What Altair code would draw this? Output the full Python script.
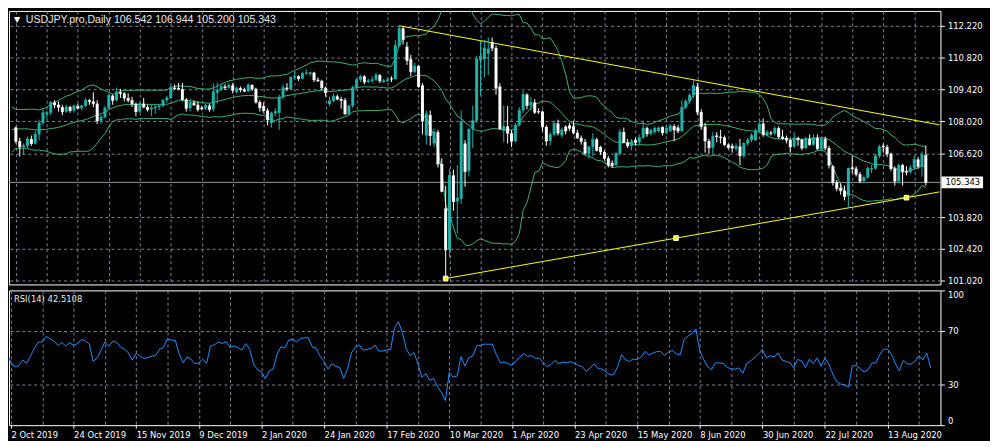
import altair as alt
import numpy as np
import pandas as pd

# ---------------- data ----------------
SYMBOL = "USDJPY.pro,Daily"
RSI_TEXT = "RSI(14) 42.5108"

# closes before the first visible bar (used only to warm up the indicators)
WARMUP_CLOSE = [106.60, 106.40, 106.55, 105.40, 106.10, 106.15, 106.55, 106.45, 106.30, 106.20,
                105.95, 106.40, 106.95, 106.90, 107.25, 107.55, 107.80, 108.10, 108.10, 108.05,
                108.15, 108.45, 107.95, 107.55, 107.55, 107.10, 107.75, 107.75, 107.95, 108.05,
                107.75]

OPEN = [107.75, 107.15, 106.90, 106.95, 107.25, 107.05, 107.45, 107.95, 108.35, 108.40,
        108.85, 108.75, 108.65, 108.45, 108.65, 108.50, 108.70, 108.60, 108.70, 108.95,
        108.90, 108.80, 108.05, 108.20, 108.60, 109.15, 108.95, 109.30, 109.25, 109.05,
        108.95, 108.80, 108.45, 108.80, 108.65, 108.55, 108.60, 108.65, 108.70, 108.95,
        109.05, 109.50, 109.48, 109.44, 108.98, 108.60, 108.85, 108.75, 108.62, 108.58,
        108.72, 108.55, 109.28, 109.40, 109.55, 109.50, 109.60, 109.30, 109.48, 109.42,
        109.35, 109.62, 109.45, 108.87, 108.70, 108.50, 107.95, 108.38, 108.40, 109.08,
        109.50, 109.45, 109.95, 110.00, 109.90, 110.12, 110.10, 110.16, 109.85, 109.80,
        109.50, 108.78, 108.92, 109.12, 109.00, 108.95, 108.35, 108.70, 109.50, 109.85,
        110.00, 109.75, 109.80, 109.85, 110.05, 109.75, 109.80, 109.90, 109.88, 111.35,
        112.10, 111.30, 110.75, 110.20, 110.45, 109.60, 107.40, 108.30, 107.05, 107.55,
        106.15, 104.20, 102.38, 105.65, 104.50, 104.62, 107.05, 105.85, 107.68, 108.05,
        110.72, 110.75, 111.00, 111.50, 111.24, 109.55, 107.60, 107.80, 107.50, 107.15,
        107.85, 108.50, 109.20, 108.72, 108.85, 108.46, 108.45, 107.78, 107.16, 107.44,
        107.93, 107.40, 107.79, 107.85, 107.80, 107.52, 107.30, 107.12, 106.62, 106.90,
        107.23, 106.90, 106.68, 106.40, 106.20, 106.10, 106.60, 107.55, 107.10, 106.95,
        107.20, 107.10, 107.30, 107.72, 107.48, 107.55, 107.58, 107.78, 107.52, 107.60,
        107.82, 107.75, 107.60, 108.64, 108.90, 109.17, 109.55, 108.43, 107.79, 107.16,
        106.87, 107.40, 107.35, 107.32, 107.00, 106.95, 106.82, 106.92, 106.50, 107.05,
        107.20, 107.20, 107.60, 107.92, 107.40, 107.52, 107.50, 107.72, 107.35, 107.30,
        107.20, 106.92, 107.30, 107.22, 106.85, 107.25, 107.00, 107.30, 106.80, 107.25,
        106.85, 106.05, 105.35, 105.10, 104.98, 104.75, 106.00, 105.95, 105.70, 105.40,
        105.55, 105.92, 105.95, 106.50, 106.95, 106.90, 106.60, 105.95, 105.40, 106.10,
        105.82, 105.80, 105.98, 106.35, 106.05, 106.542]

HIGH = [107.80, 107.30, 107.05, 107.35, 107.40, 107.60, 108.10, 108.60, 108.50, 108.90,
        108.95, 108.90, 108.75, 108.75, 108.70, 108.75, 108.80, 108.75, 109.05, 109.00,
        109.30, 108.95, 108.30, 108.70, 109.25, 109.20, 109.50, 109.45, 109.30, 109.25,
        109.10, 108.85, 108.85, 109.05, 108.75, 108.75, 108.75, 108.75, 109.00, 109.15,
        109.60, 109.65, 109.70, 109.70, 109.05, 109.00, 108.95, 108.90, 108.70, 108.80,
        108.80, 109.70, 109.72, 109.65, 109.65, 109.70, 109.70, 109.55, 109.55, 109.50,
        109.70, 109.65, 109.50, 108.95, 108.85, 108.60, 108.45, 108.60, 109.20, 109.65,
        109.70, 110.00, 110.20, 110.05, 110.20, 110.30, 110.20, 110.20, 109.95, 109.85,
        109.55, 109.10, 109.25, 109.20, 109.10, 109.05, 108.75, 109.60, 109.90, 110.05,
        110.05, 109.90, 110.00, 110.15, 110.10, 109.90, 109.95, 110.00, 111.60, 112.22,
        112.20, 111.50, 110.95, 110.60, 110.50, 109.70, 108.50, 108.50, 107.70, 107.65,
        106.40, 105.20, 105.95, 105.90, 106.10, 108.50, 107.20, 107.70, 108.70, 110.90,
        111.55, 111.60, 111.70, 111.70, 111.35, 109.70, 108.70, 108.70, 107.65, 107.95,
        108.65, 109.35, 109.25, 109.10, 109.00, 108.60, 108.50, 107.85, 107.55, 108.05,
        108.10, 107.75, 107.85, 107.95, 108.05, 107.65, 107.40, 107.25, 106.95, 107.50,
        107.30, 106.95, 106.75, 106.50, 106.30, 106.70, 107.70, 107.75, 107.25, 107.25,
        107.30, 107.45, 108.05, 107.80, 107.70, 107.80, 107.80, 107.80, 107.85, 107.90,
        107.90, 107.85, 108.95, 109.00, 109.25, 109.85, 109.70, 108.55, 107.95, 107.25,
        107.55, 107.55, 107.65, 107.40, 107.05, 107.05, 107.05, 107.25, 107.10, 107.30,
        107.50, 107.70, 108.15, 108.15, 107.65, 107.60, 107.80, 107.80, 107.65, 107.40,
        107.25, 107.55, 107.35, 107.25, 107.35, 107.45, 107.45, 107.45, 107.35, 107.35,
        106.95, 106.10, 105.45, 105.30, 105.20, 106.00, 106.50, 106.05, 105.80, 105.65,
        106.05, 106.10, 106.60, 107.00, 107.05, 107.00, 106.65, 106.05, 106.15, 106.15,
        106.05, 106.10, 106.50, 106.45, 106.70, 106.944]

LOW = [107.05, 106.48, 106.55, 106.85, 106.95, 107.00, 107.20, 107.85, 108.15, 108.30,
       108.60, 108.45, 108.30, 108.40, 108.40, 108.40, 108.55, 108.50, 108.65, 108.75,
       108.65, 107.90, 107.90, 108.15, 108.55, 108.75, 108.90, 109.05, 108.90, 108.85,
       108.65, 108.25, 108.40, 108.60, 108.45, 108.25, 108.35, 108.50, 108.65, 108.85,
       109.00, 109.40, 109.40, 108.90, 108.45, 108.45, 108.70, 108.45, 108.50, 108.50,
       108.45, 108.45, 108.80, 109.35, 109.40, 109.45, 109.25, 109.25, 109.30, 109.30,
       109.30, 109.35, 108.80, 108.45, 108.40, 107.85, 107.75, 108.25, 107.65, 109.00,
       109.35, 109.40, 109.85, 109.80, 109.85, 110.05, 110.00, 109.75, 109.75, 109.40,
       109.10, 108.70, 108.85, 108.95, 108.58, 108.30, 108.30, 108.60, 109.45, 109.75,
       109.65, 109.70, 109.70, 109.80, 109.70, 109.70, 109.75, 109.75, 109.85, 111.30,
       111.40, 110.50, 110.00, 110.15, 109.50, 107.45, 107.00, 106.95, 106.90, 106.00,
       104.90, 101.18, 102.05, 104.10, 103.10, 104.40, 105.15, 105.60, 106.85, 107.95,
       109.15, 109.95, 110.05, 111.10, 109.20, 107.65, 107.10, 107.05, 106.90, 107.10,
       107.80, 108.40, 108.55, 108.50, 108.35, 108.35, 107.58, 106.95, 106.95, 107.35,
       107.40, 107.30, 107.45, 107.60, 107.45, 107.25, 107.00, 106.55, 106.38, 106.50,
       106.70, 106.55, 106.30, 106.00, 105.98, 106.05, 106.55, 107.05, 106.85, 106.75,
       106.95, 107.00, 107.25, 107.35, 107.40, 107.45, 107.55, 107.40, 107.45, 107.55,
       107.15, 107.50, 107.55, 108.55, 108.80, 109.05, 108.30, 107.65, 106.65, 106.60,
       106.60, 107.10, 107.05, 106.95, 106.80, 106.65, 106.70, 106.10, 106.40, 106.95,
       107.10, 107.15, 107.50, 107.35, 107.35, 107.40, 107.40, 107.25, 107.20, 107.05,
       106.65, 106.85, 106.95, 106.75, 106.80, 106.95, 106.95, 106.75, 106.75, 106.75,
       105.95, 105.20, 104.95, 104.80, 104.55, 104.20, 105.75, 105.60, 105.30, 105.30,
       105.50, 105.75, 105.90, 106.40, 106.65, 106.45, 105.85, 105.20, 105.30, 105.20,
       105.65, 105.70, 105.90, 105.95, 105.60, 105.200]

CLOSE = [107.15, 106.90, 106.95, 107.25, 107.05, 107.45, 107.95, 108.40, 108.40, 108.85,
         108.75, 108.65, 108.45, 108.65, 108.50, 108.70, 108.60, 108.70, 108.95, 108.90,
         108.80, 108.05, 108.20, 108.60, 109.15, 108.95, 109.30, 109.25, 109.05, 108.95,
         108.80, 108.45, 108.80, 108.65, 108.55, 108.60, 108.65, 108.70, 108.95, 109.05,
         109.50, 109.45, 109.44, 108.98, 108.60, 108.85, 108.75, 108.55, 108.58, 108.72,
         108.55, 109.32, 109.40, 109.55, 109.50, 109.60, 109.40, 109.48, 109.42, 109.35,
         109.62, 109.45, 108.87, 108.62, 108.50, 108.10, 108.38, 108.45, 109.08, 109.50,
         109.45, 109.95, 110.00, 109.90, 110.12, 110.15, 110.16, 109.85, 109.80, 109.50,
         109.28, 108.92, 109.12, 109.00, 108.95, 108.35, 108.70, 109.50, 109.85, 110.00,
         109.75, 109.80, 109.85, 110.05, 109.80, 109.80, 109.85, 109.88, 111.35, 112.10,
         111.62, 110.70, 110.20, 110.45, 109.55, 108.05, 108.35, 107.40, 107.55, 106.15,
         104.95, 102.38, 105.65, 104.50, 104.65, 108.00, 105.82, 107.68, 108.05, 110.75,
         110.88, 111.24, 111.20, 111.24, 109.48, 107.70, 107.80, 107.50, 107.15, 107.85,
         108.50, 109.20, 108.72, 108.85, 108.42, 108.44, 107.78, 107.16, 107.44, 107.93,
         107.51, 107.65, 107.60, 107.72, 107.52, 107.30, 107.15, 106.62, 106.90, 107.23,
         106.75, 106.68, 106.40, 106.10, 106.08, 106.60, 107.55, 107.12, 106.95, 107.15,
         107.10, 107.30, 107.72, 107.48, 107.62, 107.72, 107.73, 107.52, 107.72, 107.82,
         107.65, 107.60, 108.64, 108.90, 109.17, 109.60, 108.43, 107.79, 107.16, 106.87,
         107.37, 107.35, 107.30, 107.00, 106.88, 106.85, 106.92, 106.52, 107.05, 107.20,
         107.40, 107.60, 107.90, 107.45, 107.55, 107.50, 107.72, 107.35, 107.27, 107.20,
         106.90, 107.30, 107.22, 106.85, 107.25, 107.00, 107.30, 106.82, 107.25, 106.85,
         106.10, 105.35, 105.08, 104.98, 104.72, 105.95, 105.95, 105.70, 105.40, 105.55,
         105.95, 105.95, 106.50, 106.90, 106.90, 106.60, 105.95, 105.40, 106.10, 105.80,
         105.79, 105.98, 106.35, 106.05, 106.55, 105.343]

DATE_LABELS = ["2 Oct 2019", "24 Oct 2019", "15 Nov 2019", "9 Dec 2019", "2 Jan 2020",
               "24 Jan 2020", "17 Feb 2020", "10 Mar 2020", "1 Apr 2020", "23 Apr 2020",
               "15 May 2020", "8 Jun 2020", "30 Jun 2020", "22 Jul 2020", "13 Aug 2020"]
PRICE_TICKS = [112.22, 110.82, 109.42, 108.02, 106.62, 103.82, 102.42, 101.02]
RSI_TICKS = [0, 30, 70, 100]

# trendline anchors (bar index, price)
TL_UP_IDX, TL_UP_PRICE = [99, 175], [112.22, 109.85]
TL_LO_IDX, TL_LO_PRICE = [111, 230], [101.12, 104.67]

# ---------------- styling ----------------
W, H1, H2 = 940, 276, 136
X_MIN, X_MAX = -0.5, 237.5
Y_MIN, Y_MAX = 100.86, 112.87
FONT = "DejaVu Sans"
FS = 8.5
TFONT = "Liberation Sans"
GRID = "#778899"
TEAL = "#20B2AA"
GREEN = "#3CB371"
YELLOW = "#FFFF00"
BLUE = "#1E90FF"

N = len(CLOSE)
df = pd.DataFrame({"i": np.arange(N), "o": OPEN, "h": HIGH, "l": LOW, "c": CLOSE})
df["dir"] = np.where(df["c"] >= df["o"], "up", "down")

# indicators computed from the closes
closes_all = np.array(WARMUP_CLOSE + CLOSE, dtype=float)
nw = len(WARMUP_CLOSE)
idx_all = np.arange(-nw, N)
s = pd.Series(closes_all)
mid = s.rolling(20).mean()
sd = s.rolling(20).std(ddof=0)
bands = pd.DataFrame({"i": idx_all, "Upper": mid + 2 * sd, "Middle": mid, "Lower": mid - 2 * sd})
bands = bands[bands["i"] >= -1].melt("i", var_name="band", value_name="v")

delta = np.diff(closes_all)
gain = np.clip(delta, 0, None)
loss = np.clip(-delta, 0, None)
rsi = np.full(len(closes_all), np.nan)
ag, al = gain[:14].mean(), loss[:14].mean()
rsi[14] = 100 - 100 / (1 + ag / al)
for k in range(15, len(closes_all)):
    ag = (ag * 13 + gain[k - 1]) / 14
    al = (al * 13 + loss[k - 1]) / 14
    rsi[k] = 100 - 100 / (1 + ag / al) if al > 0 else 100
rsi_df = pd.DataFrame({"i": idx_all, "rsi": rsi})
rsi_df = rsi_df[rsi_df["i"] >= -1]

# trendlines extended to the right edge of the chart
def ray(ix, pr):
    slope = (pr[1] - pr[0]) / (ix[1] - ix[0])
    return [ix[0], X_MAX + 1], [pr[0], pr[0] + slope * (X_MAX + 1 - ix[0])]

ux, uy = ray(TL_UP_IDX, TL_UP_PRICE)
lx, ly = ray(TL_LO_IDX, TL_LO_PRICE)
tl_df = pd.DataFrame({"i": ux + lx, "p": uy + ly, "line": ["up", "up", "lo", "lo"]})
sq_df = pd.DataFrame({
    "i": [TL_LO_IDX[0], (TL_LO_IDX[0] + TL_LO_IDX[1]) / 2, TL_LO_IDX[1]],
    "p": [TL_LO_PRICE[0], (TL_LO_PRICE[0] + TL_LO_PRICE[1]) / 2, TL_LO_PRICE[1]],
})
last_df = pd.DataFrame({"p": [CLOSE[-1]], "t": [f"{CLOSE[-1]:.3f}"]})
title_txt = f"{SYMBOL}  {OPEN[-1]:.3f} {HIGH[-1]:.3f} {LOW[-1]:.3f} {CLOSE[-1]:.3f}"

# ---------------- encodings ----------------
xscale = alt.Scale(domain=[X_MIN, X_MAX], nice=False, zero=False)
grid_vals = list(range(0, N, 8))
lab_arr = "[" + ",".join(f"'{d}'" for d in DATE_LABELS) + "]"

main_xaxis = alt.Axis(values=grid_vals, grid=True, gridColor=GRID, gridDash=[3, 3], gridWidth=1,
                      labels=False, ticks=False, domain=False, title=None)
rsi_xaxis = alt.Axis(values=grid_vals, grid=True, gridColor=GRID, gridDash=[3, 3], gridWidth=1,
                     domain=False, title=None, tickColor="white", tickSize=3,
                     tickOpacity={"condition": {"test": "datum.value % 16 === 0", "value": 1}, "value": 0},
                     labelExpr=f"datum.value % 16 === 0 ? {lab_arr}[datum.value / 16] : ''",
                     labelAlign="left", labelPadding=2, labelOverlap=False, labelColor="white",
                     labelFont=FONT, labelFontSize=FS)

yscale = alt.Scale(domain=[Y_MIN, Y_MAX], nice=False, zero=False)
main_yaxis = alt.Axis(orient="right", values=PRICE_TICKS, format=".3f", grid=True, gridColor=GRID,
                      gridDash=[3, 3], gridWidth=1, tickColor="white", tickSize=4, domain=False,
                      labelColor="white", labelFont=FONT, labelFontSize=FS, labelPadding=3, title=None)


def X(field, axis=main_xaxis):
    return alt.X(f"{field}:Q", scale=xscale, axis=axis)


def Y(field):
    return alt.Y(f"{field}:Q", scale=yscale, axis=main_yaxis)


color = alt.Color("dir:N", scale=alt.Scale(domain=["up", "down"], range=[TEAL, "white"]), legend=None)

base = alt.Chart(df)
wicks = base.mark_rule(strokeWidth=1).encode(x=X("i"), y=Y("l"), y2="h:Q", color=color)
bodies = base.mark_bar(size=3).encode(x=X("i"), y=Y("o"), y2="c:Q", color=color)
doji = base.mark_tick(orient="horizontal", size=3, thickness=1).encode(x=X("i"), y=Y("c"), color=color)

cur_line = alt.Chart(last_df).mark_rule(color="#8C9AA8", strokeWidth=1).encode(
    y=Y("p"), x=alt.value(0), x2=alt.value(W))
band_lines = alt.Chart(bands).mark_line(color=GREEN, strokeWidth=1, clip=True).encode(
    x=X("i"), y=Y("v"), detail="band:N")
trend = alt.Chart(tl_df).mark_line(color=YELLOW, strokeWidth=1, clip=True).encode(
    x=X("i"), y=Y("p"), detail="line:N")
squares = alt.Chart(sq_df).mark_square(size=22, color=YELLOW, filled=True, stroke="white",
                                       strokeWidth=1, opacity=1).encode(x=X("i"), y=Y("p"))
price_box = alt.Chart(last_df).mark_rule(color="white", strokeWidth=12).encode(
    y=Y("p"), x=alt.value(W + 1), x2=alt.value(W + 43))
price_txt = alt.Chart(last_df).mark_text(align="left", baseline="middle", font=FONT, fontSize=FS,
                                         color="black").encode(y=Y("p"), x=alt.value(W + 5), text="t:N")
tri = alt.Chart(pd.DataFrame({"t": ["\u25BC"]})).mark_text(
    align="left", baseline="middle", font="DejaVu Sans", fontSize=8, color="white").encode(
    x=alt.value(5), y=alt.value(9), text="t:N")
title = alt.Chart(pd.DataFrame({"t": [title_txt]})).mark_text(
    align="left", baseline="middle", font=TFONT, fontSize=10.7, color="#E8E8E8").encode(
    x=alt.value(17), y=alt.value(9), text="t:N")

main = alt.layer(cur_line, band_lines, trend, wicks, bodies, doji, squares, price_box, price_txt,
                 tri, title).properties(width=W, height=H1)

rsi_scale = alt.Scale(domain=[0, 100], nice=False, zero=False)
rsi_yaxis = alt.Axis(orient="right", values=RSI_TICKS, grid=True, gridColor=GRID, gridDash=[3, 3],
                     gridOpacity={"condition": {"test": "datum.value === 30 || datum.value === 70",
                                                "value": 1}, "value": 0},
                     tickColor="white", tickSize=4, domain=False, labelColor="white", labelFont=FONT,
                     labelFontSize=FS, labelPadding=3, labelFlush=True, title=None)
rsi_line = alt.Chart(rsi_df).mark_line(color=BLUE, strokeWidth=1, clip=True).encode(
    x=X("i", rsi_xaxis), y=alt.Y("rsi:Q", scale=rsi_scale, axis=rsi_yaxis))
rsi_label = alt.Chart(pd.DataFrame({"t": [RSI_TEXT]})).mark_text(
    align="left", baseline="middle", font=FONT, fontSize=FS, color="#E8E8E8").encode(
    x=alt.value(5), y=alt.value(9), text="t:N")
rsi_panel = alt.layer(rsi_line, rsi_label).properties(width=W, height=H2)

chart = alt.vconcat(main, rsi_panel, spacing=3).properties(
    background="black", padding={"left": 0, "top": 0, "right": 0, "bottom": 0}
).configure_view(stroke="white", strokeWidth=1)

chart.save("out.html", embed_options={"renderer": "svg", "actions": False})
